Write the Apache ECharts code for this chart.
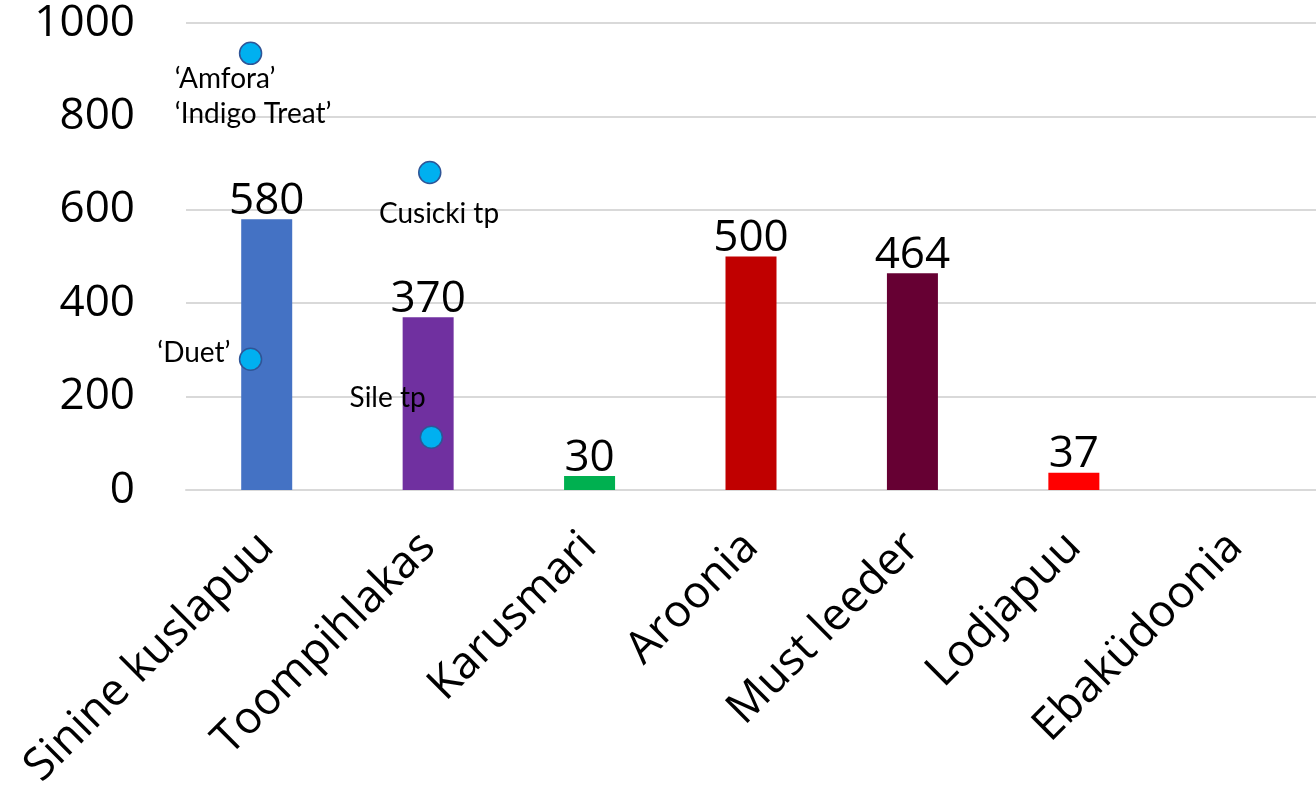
<!DOCTYPE html>
<html>
<head>
<meta charset="utf-8">
<script src="https://cdn.jsdelivr.net/npm/echarts@6/dist/echarts.min.js"></script>
<style>
html,body{margin:0;padding:0;background:#fff;}
#c{width:1316px;height:799px;}
</style>
</head>
<body>
<div id="c"></div>
<script>
// ---- data ----
const categories = ['Sinine kuslapuu', 'Toompihlakas', 'Karusmari', 'Aroonia', 'Must leeder', 'Lodjapuu', 'Ebaküdoonia'];
const barValues = [580, 370, 30, 500, 464, 37, null];
const barColors = ['#4472C4', '#7030A0', '#00B050', '#C00000', '#660033', '#FF0000', '#999999'];
const yTicks = [0, 200, 400, 600, 800, 1000];
const cultivarNames = ['‘Amfora’\n‘Indigo Treat’', '‘Duet’', 'Cusicki tp', 'Sile tp'];
const cultivarX = [0.40, 0.40, 1.51, 1.52];
const cultivarY = [935, 280, 680, 113];

// ---- label placement (style) ----
const labelPlace = [
  {position: [-64, 20], align: 'left', verticalAlign: 'top'},
  {position: [-45, 5], align: 'center', verticalAlign: 'middle'},
  {position: [21, 53], align: 'center', verticalAlign: 'middle'},
  {position: [-32, -28], align: 'center', verticalAlign: 'middle'}
];

const chart = echarts.init(document.getElementById('c'), null, {renderer: 'canvas'});

const barData = barValues.map((v, i) => ({
  value: v,
  itemStyle: {color: barColors[i]}
}));

const scatterData = cultivarNames.map((n, i) => ({
  name: n,
  value: [cultivarX[i], cultivarY[i]],
  label: Object.assign({show: true, formatter: '{b}'}, labelPlace[i])
}));

chart.setOption({
  animation: false,
  grid: {left: 186, right: 0, top: 23, bottom: 309, containLabel: false},
  xAxis: [
    {
      type: 'category',
      data: categories,
      axisLine: {show: true, lineStyle: {color: '#D9D9D9', width: 2}},
      axisTick: {show: false},
      axisLabel: {
        rotate: 45,
        margin: 50,
        interval: 0,
        fontFamily: 'Open Sans',
        fontSize: 45,
        color: '#000'
      }
    },
    {
      type: 'value',
      min: 0,
      max: 7,
      show: false
    }
  ],
  yAxis: {
    type: 'value',
    min: 0,
    max: 1000,
    interval: 200,
    axisLine: {show: false},
    axisTick: {show: false},
    splitLine: {lineStyle: {color: '#D9D9D9', width: 2}},
    axisLabel: {
      margin: 51,
      fontFamily: 'Open Sans',
      fontSize: 44,
      color: '#000',
      formatter: v => (yTicks.indexOf(v) >= 0 ? String(v) : '')
    }
  },
  series: [
    {
      type: 'bar',
      xAxisIndex: 0,
      data: barData,
      barWidth: 51,
      label: {
        show: true,
        position: 'top',
        distance: -4,
        fontFamily: 'Open Sans',
        fontSize: 44,
        color: '#000'
      }
    },
    {
      type: 'scatter',
      xAxisIndex: 1,
      data: scatterData,
      symbol: 'circle',
      symbolSize: 22,
      itemStyle: {color: '#00B0F0', borderColor: '#2F5597', borderWidth: 1.5, opacity: 1},
      label: {
        fontFamily: 'Lato',
        fontSize: 28,
        lineHeight: 35,
        color: '#000'
      },
      z: 5
    }
  ]
});
</script>
</body>
</html>
